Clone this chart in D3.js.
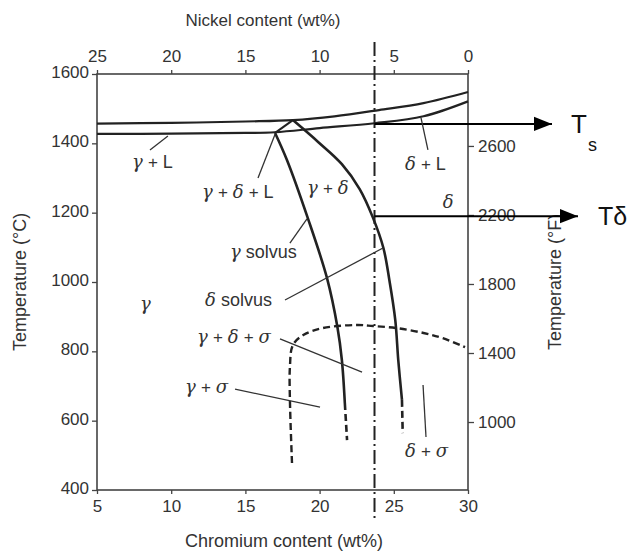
<!DOCTYPE html>
<html>
<head>
<meta charset="utf-8">
<script src="https://cdn.jsdelivr.net/npm/d3@7"></script>
<style>
  body { margin: 0; background: #fff; }
  text { font-family: "Liberation Sans", Arial, sans-serif; fill: #333; }
  .greek { font-family: "DejaVu Serif", serif; font-style: italic; }
</style>
</head>
<body>
<div id="chart"></div>
<script>
// axis ticks
var crTicks = [5, 10, 15, 20, 25, 30];
var niTicks = [25, 20, 15, 10, 5, 0];
var tcTicks = [400, 600, 800, 1000, 1200, 1400, 1600];
var tfTicks = [1000, 1400, 1800, 2200, 2600];

// phase boundaries, [Cr wt%, T degC]
var liquidus = [[5, 1457], [10, 1459], [15, 1463], [18.2, 1467], [21, 1478], [24, 1496], [27, 1516], [30, 1548]];
var solidus = [[5, 1427], [10, 1428], [15, 1430], [17, 1432], [20, 1444], [23.7, 1458], [27, 1478], [30, 1521]];
var peritecticLeg = [[18.2, 1467], [17.0, 1430]];
var gammaSolvus = [[17.0, 1430], [17.8, 1352], [19.2, 1185], [20.5, 1011], [21.2, 870], [21.5, 775], [21.7, 651]];
var gammaSolvusLow = [[21.7, 651], [21.85, 544]];
var deltaSolvus = [[18.2, 1467], [19.9, 1404], [21.5, 1340], [22.7, 1268], [23.6, 1185], [24.3, 1098], [24.7, 1006], [25.1, 890], [25.3, 775], [25.55, 660]];
var deltaSolvusLow = [[25.55, 660], [25.6, 564]];
var sigmaSolvus = [[18.14, 478], [18.0, 660], [18.0, 755], [18.2, 818], [18.9, 847], [20.2, 867], [22.5, 876], [23.6, 873], [25.2, 867], [27.0, 853], [28.3, 838], [29.8, 812]];

// alloy composition and its two marked temperatures
var alloyCr = 23.7;
var arrowTemps = [1456, 1190];
var arrowNames = ['Ts', 'Tδ'];

// phase field labels: text, Cr, T, leader line
var phaseLabels = [
  {t: 'γ + L', cr: 7.36, T: 1329, lead: [[8.57, 1381], [9.78, 1421]]},
  {t: 'δ + L', cr: 25.75, T: 1323, lead: [[27.3, 1381], [26.83, 1474]]},
  {t: 'γ + δ + L', cr: 12.08, T: 1242, lead: [[15.85, 1300], [17.0, 1426]]},
  {t: 'γ + δ', cr: 19.15, T: 1254},
  {t: 'δ', cr: 28.3, T: 1213},
  {t: 'γ solvus', cr: 13.96, T: 1069, lead: [[18.0, 1112], [19.15, 1182]]},
  {t: 'δ solvus', cr: 12.28, T: 931, lead: [[17.67, 948], [24.27, 1098]]},
  {t: 'γ', cr: 7.9, T: 919},
  {t: 'γ + δ + σ', cr: 11.74, T: 824, lead: [[17.33, 836], [22.86, 740]]},
  {t: 'γ + σ', cr: 10.93, T: 680, lead: [[14.3, 691], [20.03, 639]]},
  {t: 'δ + σ', cr: 25.75, T: 495, lead: [[26.97, 703], [27.17, 553]]}
];

var W = 633, H = 553;
var m = {left: 97, right: 165, top: 74, bottom: 63};

var svg = d3.select('#chart').append('svg')
    .attr('width', W)
    .attr('height', H);

var x = d3.scaleLinear().domain([5, 30]).range([m.left, W - m.right]);
var xNi = d3.scaleLinear().domain([25, 0]).range([m.left, W - m.right]);
var y = d3.scaleLinear().domain([400, 1600]).range([H - m.bottom, m.top]);
var yF = d3.scaleLinear().domain([606, 3017]).range([H - m.bottom, m.top]);

var line = d3.line()
    .x(function(d) { return x(d[0]); })
    .y(function(d) { return y(d[1]); })
    .curve(d3.curveCatmullRom.alpha(0.5));

// frame
svg.append('rect')
    .attr('x', x(5)).attr('y', y(1600))
    .attr('width', x(30) - x(5)).attr('height', y(400) - y(1600))
    .attr('fill', 'none').attr('stroke', '#444').attr('stroke-width', 1.6);

function styleAxis(g) {
    g.select('.domain').remove();
    g.selectAll('line').attr('stroke', '#444').attr('stroke-width', 1.3);
    g.selectAll('text').style('font-size', '17px').attr('fill', '#333');
}

var fmt = d3.format('d');
svg.append('g').attr('transform', 'translate(0,' + y(400) + ')')
    .call(d3.axisBottom(x).tickValues(crTicks).tickFormat(fmt).tickSize(4).tickPadding(6))
    .call(styleAxis);
svg.append('g').attr('transform', 'translate(0,' + y(1600) + ')')
    .call(d3.axisTop(xNi).tickValues(niTicks).tickFormat(fmt).tickSize(4).tickPadding(8))
    .call(styleAxis);
svg.append('g').attr('transform', 'translate(' + x(5) + ',0)')
    .call(d3.axisLeft(y).tickValues(tcTicks).tickFormat(fmt).tickSize(5).tickPadding(3))
    .call(styleAxis)
    .selectAll('text').attr('dy', '0.2em');
svg.append('g').attr('transform', 'translate(' + x(30) + ',0)')
    .call(d3.axisRight(yF).tickValues(tfTicks).tickFormat(fmt).tickSize(6).tickPadding(4))
    .call(styleAxis);

// axis titles
svg.append('text').attr('x', 263).attr('y', 26)
    .attr('text-anchor', 'middle').style('font-size', '17px')
    .text('Nickel content (wt%)');
svg.append('text').attr('x', 284).attr('y', 547)
    .attr('text-anchor', 'middle').style('font-size', '18px')
    .text('Chromium content (wt%)');
svg.append('text')
    .attr('transform', 'translate(26,' + 282 + ') rotate(-90)')
    .attr('text-anchor', 'middle').style('font-size', '18px')
    .text('Temperature (°C)');
svg.append('text')
    .attr('transform', 'translate(561,' + 282 + ') rotate(-90)')
    .attr('text-anchor', 'middle').style('font-size', '18px')
    .text('Temperature (°F)');

// solid boundaries
var curves = svg.append('g').attr('fill', 'none').attr('stroke', '#222');
curves.append('path').datum(liquidus).attr('d', line).attr('stroke-width', 2.2);
curves.append('path').datum(solidus).attr('d', line).attr('stroke-width', 2.2);
curves.append('path').datum(peritecticLeg).attr('d', line).attr('stroke-width', 2);
curves.append('path').datum(gammaSolvus).attr('d', line).attr('stroke-width', 2.6);
curves.append('path').datum(deltaSolvus).attr('d', line).attr('stroke-width', 2.6);

// dashed (uncertain) boundaries
[gammaSolvusLow, deltaSolvusLow].forEach(function(seg) {
    curves.append('path').datum(seg).attr('d', line)
        .attr('stroke-width', 2.6).attr('stroke-dasharray', '7,4');
});
curves.append('path').datum(sigmaSolvus).attr('d', line)
    .attr('stroke-width', 2.4).attr('stroke-dasharray', '7,4');

// alloy composition line (dash-dot)
svg.append('line')
    .attr('x1', x(alloyCr)).attr('x2', x(alloyCr))
    .attr('y1', 42).attr('y2', 522)
    .attr('stroke', '#222').attr('stroke-width', 2)
    .attr('stroke-dasharray', '14,4,2,4');

// arrows
svg.append('defs').append('marker')
    .attr('id', 'head').attr('viewBox', '0 0 10 10')
    .attr('refX', 10).attr('refY', 5)
    .attr('markerWidth', 20).attr('markerHeight', 18)
    .attr('markerUnits', 'userSpaceOnUse')
    .attr('orient', 'auto')
  .append('path').attr('d', 'M0,1L10,5L0,9Z').attr('fill', '#000');

var arrowEnds = [552, 578];
arrowTemps.forEach(function(t, i) {
    svg.append('line')
        .attr('x1', x(alloyCr)).attr('x2', arrowEnds[i])
        .attr('y1', y(t)).attr('y2', y(t))
        .attr('stroke', '#000').attr('stroke-width', 2)
        .attr('marker-end', 'url(#head)');
});

var ts = svg.append('text').attr('x', 571).attr('y', y(arrowTemps[0]) + 9)
    .style('font-size', '26px').style('fill', '#111');
ts.append('tspan').text(arrowNames[0][0]);
ts.append('tspan').attr('dx', 1).attr('dy', 18).style('font-size', '18px').text(arrowNames[0][1]);
svg.append('text').attr('x', 598).attr('y', y(arrowTemps[1]) + 9)
    .style('font-size', '25px').style('fill', '#111')
    .text(arrowNames[1]);

// phase labels and leaders
var lab = svg.append('g');
phaseLabels.forEach(function(d) {
    if (d.lead) {
        lab.append('path').datum(d.lead).attr('d', d3.line()
                .x(function(p) { return x(p[0]); })
                .y(function(p) { return y(p[1]); }))
            .attr('stroke', '#333').attr('stroke-width', 1.3).attr('fill', 'none');
    }
    var t = lab.append('text').attr('x', x(d.cr)).attr('y', y(d.T));
    d.t.split(' ').forEach(function(w, k) {
        var isWord = /[A-Za-z]/.test(w);
        t.append('tspan')
            .attr('class', isWord ? null : 'greek')
            .attr('dx', k ? 5 : 0)
            .style('font-size', w === '+' ? '17px' : (isWord ? '18px' : '18px'))
            .style('font-family', w === '+' ? '"Liberation Sans", Arial, sans-serif' : null)
            .text(w);
    });
});
</script>
</body>
</html>
